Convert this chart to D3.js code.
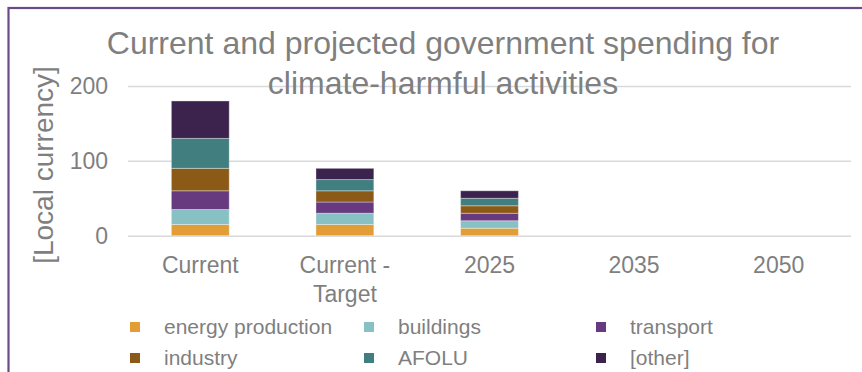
<!DOCTYPE html>
<html>
<head>
<meta charset="utf-8">
<script src="https://cdn.jsdelivr.net/npm/d3@7/dist/d3.min.js"></script>
<style>
  html, body { margin: 0; padding: 0; background: #ffffff; }
  svg { display: block; font-family: "Liberation Sans", Arial, sans-serif; }
</style>
</head>
<body>
<svg id="chart" width="862" height="372"></svg>
<script>
// Categories and stacked series (local currency)
const categories = ["Current", "Current - Target", "2025", "2035", "2050"];
const categoryLines = [["Current"], ["Current -", "Target"], ["2025"], ["2035"], ["2050"]];
const seriesNames = ["energy production", "buildings", "transport", "industry", "AFOLU", "[other]"];
const energyProduction = [15, 15, 10, 0, 0];
const buildings        = [20, 15, 10, 0, 0];
const transport        = [25, 15, 10, 0, 0];
const industry         = [30, 15, 10, 0, 0];
const afolu            = [40, 15, 10, 0, 0];
const other            = [50, 15, 10, 0, 0];
const yTicks = [0, 100, 200];
const colors = ["#E29D37", "#88C1C3", "#673A80", "#8B5A16", "#417E80", "#3B234D"];

const seriesValues = [energyProduction, buildings, transport, industry, afolu, other];
const table = categories.map((c, i) => {
  const row = { category: c };
  seriesNames.forEach((s, k) => { row[s] = seriesValues[k][i]; });
  return row;
});

const svg = d3.select("#chart");
const textColor = "#7f7f7f";

// Frame (top and left edges are the only ones inside the view)
svg.append("rect")
  .attr("x", 8.5).attr("y", 8)
  .attr("width", 900).attr("height", 420)
  .attr("fill", "none")
  .attr("stroke", "#6B4A8C")
  .attr("stroke-width", 2.2);

const plot = { left: 128, right: 851, top: 86, bottom: 235.7 };

const x = d3.scaleBand()
  .domain(categories)
  .range([plot.left, plot.right])
  .paddingInner(0.6)
  .paddingOuter(0.3);

const y = d3.scaleLinear()
  .domain([0, 200])
  .range([plot.bottom, plot.top]);

// Gridlines
const grid = svg.append("g")
  .call(d3.axisLeft(y).tickValues(yTicks).tickSize(-(plot.right - plot.left)).tickFormat(""))
  .attr("transform", `translate(${plot.left},0)`);
grid.select(".domain").remove();
grid.selectAll(".tick line").attr("stroke", "#d9d9d9").attr("stroke-width", 1.5);

// Y tick labels
const yAxis = svg.append("g")
  .attr("transform", `translate(${plot.left - 20},0)`)
  .call(d3.axisLeft(y).tickValues(yTicks).tickSize(0).tickPadding(0));
yAxis.select(".domain").remove();
yAxis.selectAll("text")
  .attr("fill", textColor)
  .style("font-size", "23px")
  .style("font-family", "'Liberation Sans', Arial, sans-serif");

// Stacked bars
const stack = d3.stack().keys(seriesNames);
const layers = stack(table);
svg.append("g")
  .selectAll("g")
  .data(layers)
  .join("g")
  .attr("fill", (d, i) => colors[i])
  .selectAll("rect")
  .data(d => d.filter(s => s[1] - s[0] > 0))
  .join("rect")
  .attr("x", d => x(d.data.category))
  .attr("width", x.bandwidth())
  .attr("y", d => y(d[1]))
  .attr("height", d => y(d[0]) - y(d[1]))
  .attr("stroke", "rgba(255,255,255,0.35)")
  .attr("stroke-width", 1);

// Category labels
const xAxis = svg.append("g");
categories.forEach((c, i) => {
  const t = xAxis.append("text")
    .attr("x", x(c) + x.bandwidth() / 2)
    .attr("y", 273)
    .attr("text-anchor", "middle")
    .attr("fill", textColor)
    .style("font-size", "23px");
  categoryLines[i].forEach((line, j) => {
    t.append("tspan")
      .attr("x", x(c) + x.bandwidth() / 2)
      .attr("dy", j === 0 ? 0 : 29)
      .text(line);
  });
});

// Y axis title
svg.append("text")
  .attr("transform", "translate(53,165) rotate(-90)")
  .attr("text-anchor", "middle")
  .attr("fill", textColor)
  .style("font-size", "28px")
  .text("[Local currency]");

// Chart title
const title = svg.append("text")
  .attr("x", 443)
  .attr("y", 54)
  .attr("text-anchor", "middle")
  .attr("fill", textColor)
  .style("font-size", "32px");
title.append("tspan").attr("x", 443).attr("dy", 0).text("Current and projected government spending for");
title.append("tspan").attr("x", 443).attr("dy", 40).text("climate-harmful activities");

// Legend
const legendX = [130, 364, 596];
const legendY = [327, 358];
const legend = svg.append("g");
seriesNames.forEach((s, i) => {
  const col = i % 3, row = Math.floor(i / 3);
  const g = legend.append("g").attr("transform", `translate(${legendX[col]},${legendY[row]})`);
  g.append("rect").attr("x", 0).attr("y", -5).attr("width", 10).attr("height", 10).attr("fill", colors[i]);
  g.append("text").attr("x", 34).attr("y", 7).attr("fill", textColor)
    .style("font-size", "21px").text(s);
});
</script>
</body>
</html>
